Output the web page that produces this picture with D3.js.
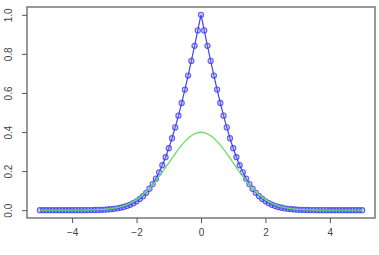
<!DOCTYPE html>
<html>
<head>
<meta charset="utf-8">
<script src="https://cdn.jsdelivr.net/npm/d3@7"></script>
<style>
	html, body {margin: 0; padding: 0; background: #fff;}
	svg {display: block;}
	.tick text {font-family: "Liberation Sans", Arial, sans-serif; font-size: 10px; fill: #444;}
</style>
</head>
<body>
<svg id="chart" width="379" height="255"></svg>
<script>
// x grid: -5 .. 5 by 0.1
const xs = d3.range(-50, 51).map((i) => i / 10);

// blue series (points + line), left to right
const blueValues = [
	0, 0, 0, 0, 0, 0, 0, 0, 0, 0,
	0, 0.0001, 0.0001, 0.0002, 0.0003, 0.0005, 0.0007, 0.001, 0.0014, 0.0019,
	0.0027, 0.0037, 0.0051, 0.0069, 0.0093, 0.0124, 0.0164, 0.0214, 0.0278, 0.0357,
	0.0455, 0.0574, 0.0719, 0.0891, 0.1096, 0.1336, 0.1615, 0.1936, 0.2301, 0.2713,
	0.3173, 0.3681, 0.4237, 0.4839, 0.5485, 0.6171, 0.6892, 0.7642, 0.8415, 0.9203,
	1.0,
	0.9203, 0.8415, 0.7642, 0.6892, 0.6171, 0.5485, 0.4839, 0.4237, 0.3681, 0.3173,
	0.2713, 0.2301, 0.1936, 0.1615, 0.1336, 0.1096, 0.0891, 0.0719, 0.0574, 0.0455,
	0.0357, 0.0278, 0.0214, 0.0164, 0.0124, 0.0093, 0.0069, 0.0051, 0.0037, 0.0027,
	0.0019, 0.0014, 0.001, 0.0007, 0.0005, 0.0003, 0.0002, 0.0001, 0.0001, 0,
	0, 0, 0, 0, 0, 0, 0, 0, 0, 0
];

// green series (line only)
const greenValues = [
	0, 0, 0, 0, 0, 0, 0, 0, 0, 0,
	0.0001, 0.0002, 0.0003, 0.0004, 0.0006, 0.0009, 0.0012, 0.0017, 0.0024, 0.0033,
	0.0044, 0.006, 0.0079, 0.0104, 0.0136, 0.0175, 0.0224, 0.0283, 0.0355, 0.044,
	0.054, 0.0656, 0.079, 0.094, 0.1109, 0.1295, 0.1497, 0.1714, 0.1942, 0.2179,
	0.242, 0.2661, 0.2897, 0.3123, 0.3332, 0.3521, 0.3683, 0.3814, 0.391, 0.397,
	0.3989,
	0.397, 0.391, 0.3814, 0.3683, 0.3521, 0.3332, 0.3123, 0.2897, 0.2661, 0.242,
	0.2179, 0.1942, 0.1714, 0.1497, 0.1295, 0.1109, 0.094, 0.079, 0.0656, 0.054,
	0.044, 0.0355, 0.0283, 0.0224, 0.0175, 0.0136, 0.0104, 0.0079, 0.006, 0.0044,
	0.0033, 0.0024, 0.0017, 0.0012, 0.0009, 0.0006, 0.0004, 0.0003, 0.0002, 0.0001,
	0, 0, 0, 0, 0, 0, 0, 0, 0, 0
];

const xTicks = [-4, -2, 0, 2, 4];
const yTicks = [0, 0.2, 0.4, 0.6, 0.8, 1.0];

const margin = {top: 7, right: 4, bottom: 37, left: 27};
const width = 379 - margin.left - margin.right;
const height = 255 - margin.top - margin.bottom;

const svg = d3.select("#chart");
const g = svg.append("g").attr("transform", `translate(${margin.left}, ${margin.top})`);

// R style 4% padding on both axes
const x = d3.scaleLinear().domain([-5.4, 5.4]).range([0, width]);
const y = d3.scaleLinear().domain([-0.04, 1.04]).range([height, 0]);

const line = d3.line()
.x((d) => x(d.x))
.y((d) => y(d.y));

const blue = xs.map((v, i) => ({x: v, y: blueValues[i]}));
const green = xs.map((v, i) => ({x: v, y: greenValues[i]}));

g.append("path")
.datum(blue)
.attr("fill", "none")
.attr("stroke", "#4444ee")
.attr("stroke-width", 1.2)
.attr("d", line);

g.selectAll(".pt")
.data(blue)
.enter()
.append("circle")
.attr("class", "pt")
.attr("cx", (d) => x(d.x))
.attr("cy", (d) => y(d.y))
.attr("r", 2.6)
.attr("fill", "rgba(120,120,255,0.35)")
.attr("stroke", "rgba(50,50,240,0.75)")
.attr("stroke-width", 1.1);

g.append("path")
.datum(green)
.attr("fill", "none")
.attr("stroke", "#66e066")
.attr("stroke-width", 1.3)
.attr("d", line);

// box
g.append("rect")
.attr("width", width)
.attr("height", height)
.attr("fill", "none")
.attr("stroke", "#777")
.attr("stroke-width", 1.5);

const xAxis = g.append("g")
.attr("transform", `translate(0, ${height})`)
.call(d3.axisBottom(x).tickValues(xTicks).tickSize(5).tickPadding(4).tickFormat(d3.format("d")));

const yAxis = g.append("g")
.call(d3.axisLeft(y).tickValues(yTicks).tickSize(5).tickPadding(4).tickFormat(d3.format(".1f")));

[xAxis, yAxis].forEach((a) => {
	a.select(".domain").remove();
	a.selectAll(".tick line").attr("stroke", "#555");
});

// R draws the y labels parallel to the axis
yAxis.selectAll(".tick text")
.attr("text-anchor", "middle")
.attr("x", 0)
.attr("dy", 0)
.attr("transform", "translate(-15, 0) rotate(-90)");

xAxis.selectAll(".tick text").attr("dy", "0.9em");
</script>
</body>
</html>
